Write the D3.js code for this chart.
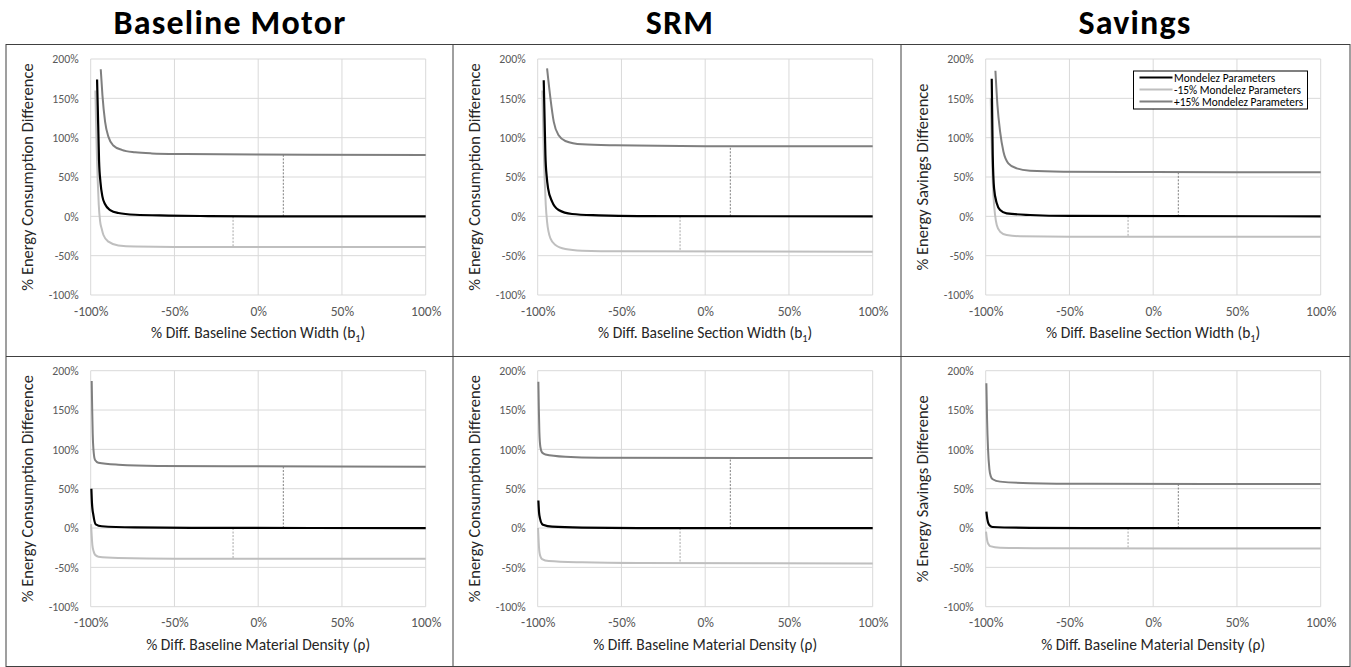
<!DOCTYPE html>
<html>
<head>
<meta charset="utf-8">
<script src="https://cdn.jsdelivr.net/npm/d3@7"></script>
<style>
  body { margin: 0; background: #fff; }
  svg { display: block; font-family: Carlito, Calibri, Lato, "Open Sans", sans-serif; }
</style>
</head>
<body>
<svg id="chart" width="1351" height="667"></svg>
<script>
// column titles and axis labels
var colTitles = ["Baseline Motor", "SRM", "Savings"];
var yTitles = ["% Energy Consumption Difference", "% Energy Consumption Difference", "% Energy Savings Difference"];
var xTitles = [["% Diff. Baseline Section Width ", "(b", "1", ")"], ["% Diff. Baseline Material Density (\u03c1)"]];
var xTicks = [-100, -50, 0, 50, 100];
var yTicks = [-100, -50, 0, 50, 100, 150, 200];
var seriesNames = ["Mondelez Parameters", "-15% Mondelez Parameters", "+15% Mondelez Parameters"];

// top row: section width
var motorWidthBase = [[-96.2,174],[-95.8,140],[-95.4,105],[-95.0,70],[-94.2,44],[-93,25],[-91.4,15.3],[-88.4,8],[-83.5,4.2],[-73.5,2],[-53.6,1],[-30,0.3],[0,0],[100,0]];
var motorWidthMinus = [[-97.2,160],[-96.8,120],[-96.4,85],[-95.8,45],[-95.2,15],[-94.4,-6],[-93.4,-16],[-92.4,-23.7],[-89.4,-32.2],[-83.5,-37],[-73.5,-38.5],[-50,-39],[100,-39]];
var motorWidthPlus = [[-94,187],[-93,154],[-91.4,120],[-89.4,101],[-86.5,90],[-81.5,84.5],[-73.5,81.4],[-63.5,80],[-43.6,79.2],[0,78.5],[100,78]];

var srmWidthBase = [[-96.4,173],[-95.9,125],[-95.4,78],[-94.6,50],[-93.8,35.6],[-91.4,18.6],[-87.5,8],[-79.5,3],[-63.5,1.3],[-40,0.3],[100,0]];
var srmWidthMinus = [[-97.2,160],[-96.8,120],[-96.4,85],[-95.8,45],[-95.2,15],[-94.4,-7],[-92.4,-28],[-89.4,-36.4],[-83.5,-41.5],[-73.5,-43.6],[-50,-44.5],[100,-45]];
var srmWidthPlus = [[-94.4,188],[-92.4,150],[-90.4,120],[-87.5,103],[-83.5,95.8],[-73.5,91.5],[-53.6,90.3],[0,89.2],[100,89]];

var savWidthBase = [[-96.4,175],[-96.1,125],[-95.8,78],[-95,35.6],[-93.4,16.5],[-91.4,8],[-87.5,3.8],[-73.5,1.7],[-50,0.5],[100,0]];
var savWidthMinus = [[-97,150],[-96.4,90],[-95.8,45],[-95.4,27],[-94.4,1.7],[-93.4,-11],[-91.4,-19.5],[-87.5,-23.7],[-79.5,-25.3],[-50,-25.8],[100,-26]];
var savWidthPlus = [[-94.2,185],[-93,141.5],[-91.4,107.6],[-89.4,82],[-86.5,67.4],[-81.5,61],[-73.5,58],[-53.6,56.8],[0,56.2],[100,56]];

// bottom row: material density
var motorDensBase = [[-99.6,50],[-99.2,30],[-98.4,16.5],[-97,4.7],[-93.4,2.3],[-73.5,0.8],[-40,0.2],[100,0]];
var motorDensMinus = [[-99.8,5],[-99.4,-10],[-99,-21.6],[-98.2,-30],[-97.4,-34],[-95.4,-36.4],[-83.5,-38],[-50,-39],[100,-39]];
var motorDensPlus = [[-99.4,187],[-99.1,150],[-98.8,120],[-98.4,101],[-97.4,86.4],[-95.4,83],[-83.5,80.5],[-60,79],[0,78.5],[100,78]];

var srmDensBase = [[-99.6,35],[-99.2,20],[-98.6,12],[-97.4,5],[-96.4,3.8],[-91.4,1.7],[-73.5,0.5],[-40,0],[100,0]];
var srmDensMinus = [[-99.8,0],[-99.4,-18],[-99,-30],[-98.2,-37],[-97.4,-39.4],[-93.4,-42],[-73.5,-43.6],[-40,-44.5],[100,-45]];
var srmDensPlus = [[-99.6,186],[-99.3,150],[-99,122],[-98.4,103],[-97.4,96],[-95.4,93.6],[-83.5,90.7],[-63.5,89.5],[100,89]];

var savDensBase = [[-99.6,21],[-99,11],[-98.4,6],[-97.2,2.5],[-95.8,1.3],[-73.5,0.3],[-40,0],[100,0]];
var savDensMinus = [[-99.8,-4.7],[-99.4,-12],[-99,-17],[-98.2,-21],[-97.4,-23],[-91.4,-25],[-60,-25.8],[100,-26]];
var savDensPlus = [[-99.6,184],[-99.2,140],[-98.6,100],[-97.8,75],[-97,66],[-95.8,62],[-91.4,59],[-73.5,57],[-40,56.3],[100,56]];

var panels = [
  [[motorWidthMinus, motorWidthPlus, motorWidthBase], [srmWidthMinus, srmWidthPlus, srmWidthBase], [savWidthMinus, savWidthPlus, savWidthBase]],
  [[motorDensMinus, motorDensPlus, motorDensBase], [srmDensMinus, srmDensPlus, srmDensBase], [savDensMinus, savDensPlus, savDensBase]]
];

var lineColors = ["#bfbfbf", "#7f7f7f", "#000000"];
var lineWidths = [2, 2, 2.2];

var colLeft = [6, 453, 901];
var colRight = 1350;
var rowTop = [44.5, 356.5];
var rowBottom = 666.5;
var plotTop = [59, 370.7];
var plotW = 335, plotH = 236;

var svg = d3.select("#chart");

// column titles
colTitles.forEach(function(t, i) {
  svg.append("text")
    .attr("x", [230, 680, 1135][i])
    .attr("y", 34)
    .attr("text-anchor", "middle")
    .attr("font-size", 34)
    .attr("letter-spacing", 1.2)
    .attr("font-weight", "bold")
    .attr("fill", "#000")
    .text(t);
});

function valueAt(pts, xv) {
  var i = d3.bisector(function(d) { return d[0]; }).left(pts, xv);
  if (i <= 0) return pts[0][1];
  if (i >= pts.length) return pts[pts.length - 1][1];
  var a = pts[i - 1], b = pts[i];
  return a[1] + (b[1] - a[1]) * (xv - a[0]) / (b[0] - a[0]);
}

function drawPanel(r, c) {
  var px = colLeft[c] + 84.7;
  var py = plotTop[r];
  var g = svg.append("g").attr("transform", "translate(" + px + "," + py + ")");

  var x = d3.scaleLinear().domain([-100, 100]).range([0, plotW]);
  var y = d3.scaleLinear().domain([-100, 200]).range([plotH, 0]);

  // gridlines
  g.selectAll(".hg").data(yTicks).enter().append("line")
    .attr("x1", 0).attr("x2", plotW)
    .attr("y1", function(d) { return y(d); }).attr("y2", function(d) { return y(d); })
    .attr("stroke", "#d9d9d9").attr("stroke-width", 1);
  g.selectAll(".vg").data(xTicks).enter().append("line")
    .attr("y1", 0).attr("y2", plotH)
    .attr("x1", function(d) { return x(d); }).attr("x2", function(d) { return x(d); })
    .attr("stroke", "#d9d9d9").attr("stroke-width", 1);

  // y tick labels
  var yAxis = g.append("g").call(d3.axisLeft(y).tickValues(yTicks).tickSize(0).tickPadding(12)
    .tickFormat(function(d) { return d + "%"; }));
  yAxis.select(".domain").remove();
  yAxis.selectAll("text").attr("font-size", 11.8).attr("fill", "#595959")
    .attr("font-family", "Carlito, Calibri, Lato, sans-serif");

  // x tick labels
  var xAxis = g.append("g").attr("transform", "translate(0," + plotH + ")")
    .call(d3.axisBottom(x).tickValues(xTicks).tickSize(0).tickPadding(11)
    .tickFormat(function(d) { return d + "%"; }));
  xAxis.select(".domain").remove();
  xAxis.selectAll("text").attr("font-size", 13.5).attr("fill", "#595959")
    .attr("font-family", "Carlito, Calibri, Lato, sans-serif");

  var series = panels[r][c];

  // dashed guides at -15% and +15%
  var vMinus = valueAt(series[0], -15);
  var vPlus = valueAt(series[1], 15);
  g.append("line").attr("x1", x(-15)).attr("x2", x(-15)).attr("y1", y(0)).attr("y2", y(vMinus))
    .attr("stroke", "#a6a6a6").attr("stroke-width", 1).attr("stroke-dasharray", "2,1.5");
  g.append("line").attr("x1", x(15)).attr("x2", x(15)).attr("y1", y(0)).attr("y2", y(vPlus))
    .attr("stroke", "#7f7f7f").attr("stroke-width", 1).attr("stroke-dasharray", "2,1.5");

  var line = d3.line()
    .x(function(d) { return x(d[0]); })
    .y(function(d) { return y(d[1]); })
    .curve(d3.curveMonotoneX);

  series.forEach(function(pts, k) {
    g.append("path").datum(pts)
      .attr("d", line)
      .attr("fill", "none")
      .attr("stroke", lineColors[k])
      .attr("stroke-width", lineWidths[k])
      .attr("stroke-linejoin", "round");
  });

  // y axis title
  g.append("text")
    .attr("transform", "translate(" + (-58) + "," + (plotH / 2) + ") rotate(-90)")
    .attr("text-anchor", "middle")
    .attr("font-size", 16.5)
    .attr("fill", "#262626")
    .text(yTitles[c]);

  // x axis title
  var xt = g.append("text")
    .attr("x", plotW / 2)
    .attr("y", plotH + 43)
    .attr("text-anchor", "middle")
    .attr("font-size", 15.5)
    .attr("fill", "#262626");
  if (r == 0) {
    xt.append("tspan").text(xTitles[0][0]);
    xt.append("tspan").text(xTitles[0][1]);
    xt.append("tspan").attr("font-size", 10.5).attr("dy", 3.5).text(xTitles[0][2]);
    xt.append("tspan").attr("dy", -3.5).text(xTitles[0][3]);
  } else {
    xt.text(xTitles[1][0]);
  }

  // legend in top-right panel
  if (r == 0 && c == 2) {
    var lg = svg.append("g").attr("transform", "translate(1133.5,71)");
    lg.append("rect").attr("width", 174).attr("height", 38)
      .attr("fill", "#fff").attr("stroke", "#000").attr("stroke-width", 1);
    [2, 0, 1].forEach(function(k, j) {
      var yy = 6.5 + j * 12;
      lg.append("line").attr("x1", 6).attr("x2", 39).attr("y1", yy).attr("y2", yy)
        .attr("stroke", lineColors[k]).attr("stroke-width", 2);
      lg.append("text").attr("x", 40.5).attr("y", yy + 4)
        .attr("font-size", 11.4).attr("fill", "#000")
        .text(seriesNames[j]);
    });
  }
}

for (var r = 0; r < 2; r++) {
  for (var c = 0; c < 3; c++) {
    drawPanel(r, c);
  }
}

// panel frame
var frame = svg.append("g").attr("stroke", "#404040").attr("stroke-width", 1).attr("fill", "none");
frame.append("rect").attr("x", colLeft[0]).attr("y", rowTop[0])
  .attr("width", colRight - colLeft[0]).attr("height", rowBottom - rowTop[0]);
frame.append("line").attr("x1", colLeft[0]).attr("x2", colRight).attr("y1", rowTop[1]).attr("y2", rowTop[1]);
[colLeft[1], colLeft[2]].forEach(function(cx) {
  frame.append("line").attr("x1", cx).attr("x2", cx).attr("y1", rowTop[0]).attr("y2", rowBottom);
});
</script>
</body>
</html>
